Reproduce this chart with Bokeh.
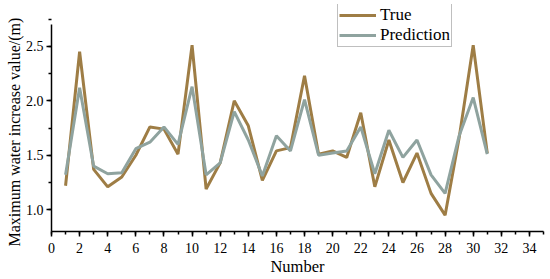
from bokeh.plotting import figure
from bokeh.models import FixedTicker, Range1d, Legend, LegendItem, PrintfTickFormatter, Title
from bokeh.embed import file_html
from bokeh.resources import INLINE

number = list(range(1, 32))
true_vals = [1.22, 2.45, 1.37, 1.21, 1.30, 1.50, 1.76, 1.74, 1.51, 2.51,
             1.19, 1.43, 2.00, 1.77, 1.27, 1.54, 1.57, 2.23, 1.51, 1.54,
             1.48, 1.89, 1.21, 1.64, 1.25, 1.52, 1.15, 0.95, 1.66, 2.51, 1.52]
pred_vals = [1.32, 2.12, 1.40, 1.33, 1.34, 1.56, 1.62, 1.76, 1.60, 2.13,
             1.32, 1.43, 1.90, 1.64, 1.31, 1.68, 1.54, 2.01, 1.50, 1.52,
             1.54, 1.76, 1.33, 1.73, 1.48, 1.64, 1.32, 1.15, 1.68, 2.03, 1.51]
x_ticks = list(range(0, 35, 2))
y_ticks = [1.0, 1.5, 2.0, 2.5]

FONT = "Liberation Serif"

p = figure(width=550, height=279, output_backend="svg", toolbar_location=None,
           x_range=Range1d(0, 35.0), y_range=Range1d(0.8, 2.884),
           min_border_left=51, min_border_right=7, min_border_top=4, min_border_bottom=48)
p.outline_line_color = None
p.grid.grid_line_color = None
p.background_fill_color = "white"

r1 = p.line(number, true_vals, line_color="#9E7D45", line_width=3)
r2 = p.line(number, pred_vals, line_color="#8FA39F", line_width=3)

p.xaxis.ticker = FixedTicker(ticks=x_ticks, minor_ticks=list(range(0, 36)))
p.yaxis.ticker = FixedTicker(ticks=y_ticks, minor_ticks=[0.75 + 0.25 * i for i in range(9)])
p.yaxis.formatter = PrintfTickFormatter(format="%.1f")
p.yaxis.bounds = (0.8, 2.7)

for ax in (p.xaxis[0], p.yaxis[0]):
    ax.axis_line_color = "black"
    ax.axis_line_width = 1.5
    ax.major_tick_line_color = "black"
    ax.minor_tick_line_color = "black"
    ax.major_tick_line_width = 1.5
    ax.minor_tick_line_width = 1.5
    ax.major_tick_in = 0
    ax.major_tick_out = 5
    ax.minor_tick_in = 0
    ax.minor_tick_out = 3
    ax.major_label_text_font = FONT
    ax.major_label_text_font_size = "14px"
    ax.major_label_text_color = "black"
    ax.axis_label_text_font = FONT
    ax.axis_label_text_font_style = "normal"
    ax.axis_label_text_color = "black"

p.xaxis.axis_label = "Number"
p.xaxis.axis_label_text_font_size = "16.5px"
p.xaxis.axis_label_standoff = 1
p.xaxis.major_label_standoff = 6
p.yaxis.major_label_standoff = 3

ytitle = Title(text="Maximum water increase value/(m)", align="left", offset=-15,
               text_font=FONT, text_font_size="16px", text_font_style="normal",
               text_color="black", standoff=0)
p.add_layout(ytitle, "left")

legend = Legend(items=[LegendItem(label="True", renderers=[r1]),
                       LegendItem(label="Prediction", renderers=[r2])],
                location=(286, 184))
legend.label_text_font = FONT
legend.label_text_font_size = "17px"
legend.label_text_color = "black"
legend.border_line_color = "#7f7f7f"
legend.border_line_width = 1
legend.background_fill_alpha = 1
legend.padding = 1
legend.spacing = 0
legend.margin = 0
legend.glyph_width = 37
legend.glyph_height = 20
legend.label_height = 20
legend.label_standoff = 4
p.add_layout(legend, "center")

open("out.html", "w").write(file_html(p, INLINE))
